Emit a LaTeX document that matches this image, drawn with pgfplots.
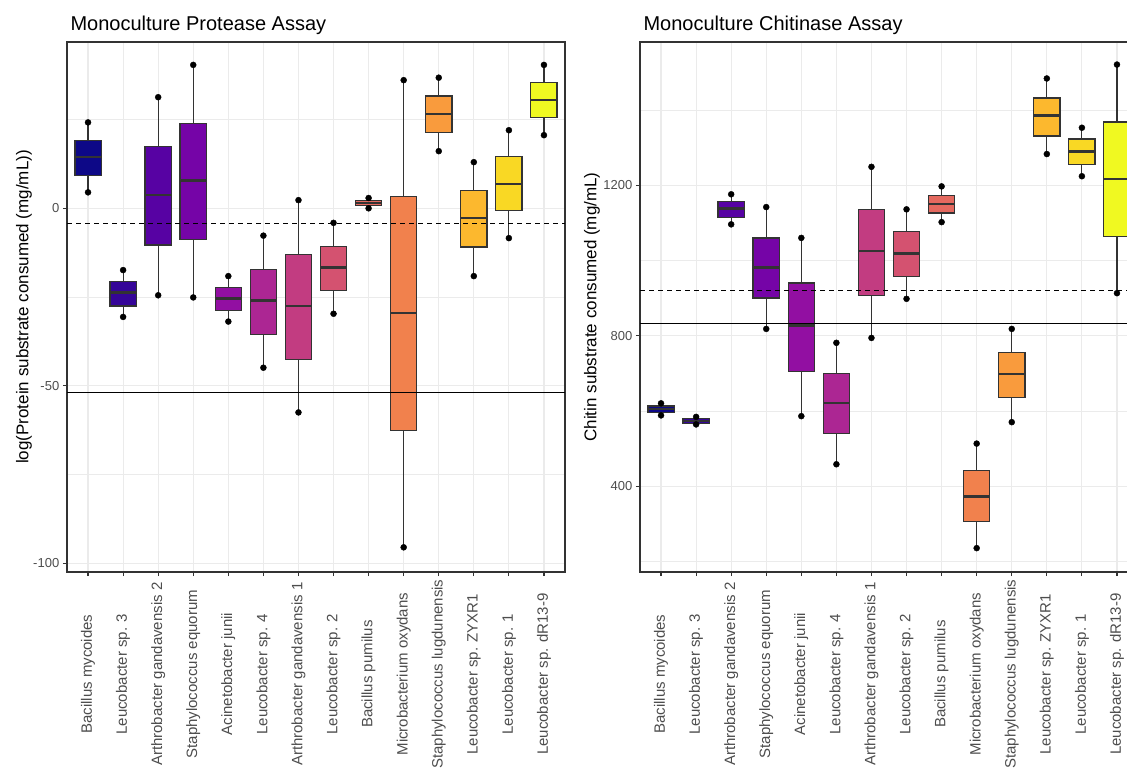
\documentclass[border=0pt]{standalone}
\usepackage{pgfplots}
\pgfplotsset{compat=1.18}
\usepackage{pgfplotstable}
\usepackage{fontspec}
\setmainfont{Liberation Sans}

% plasma palette, 14 steps
\definecolor{c0}{HTML}{0D0887}
\definecolor{c1}{HTML}{350598}
\definecolor{c2}{HTML}{5702A3}
\definecolor{c3}{HTML}{7504A7}
\definecolor{c4}{HTML}{920FA2}
\definecolor{c5}{HTML}{AC2693}
\definecolor{c6}{HTML}{C23C81}
\definecolor{c7}{HTML}{D45270}
\definecolor{c8}{HTML}{E4695F}
\definecolor{c9}{HTML}{F1814D}
\definecolor{c10}{HTML}{F99B3D}
\definecolor{c11}{HTML}{FCB82E}
\definecolor{c12}{HTML}{F9D824}
\definecolor{c13}{HTML}{F0F921}
\definecolor{gridgray}{HTML}{EBEBEB}
\definecolor{edge}{HTML}{333333}
\definecolor{ticktext}{HTML}{4D4D4D}

% five-number summaries per isolate (lower whisker ... upper whisker)
\pgfplotstableread{
pos lw lq med uq uw
0 4.5 9.3 14.4 19.2 24.2
1 -30.6 -27.5 -23.7 -20.6 -17.4
2 -24.5 -10.3 3.7 17.4 31.3
3 -25.1 -8.7 7.9 23.8 40.4
4 -31.9 -28.7 -25.4 -22.3 -19.1
5 -44.9 -35.5 -25.9 -17.2 -7.7
6 -57.5 -42.6 -27.5 -13.0 2.3
7 -29.7 -23.2 -16.6 -10.7 -4.1
8 0.0 0.8 1.5 2.2 2.9
9 -95.5 -62.6 -29.5 3.3 36.1
10 16.1 21.3 26.6 31.6 36.8
11 -19.1 -10.9 -2.7 5.1 13.0
12 -8.4 -0.7 6.9 14.5 22.0
13 20.6 25.5 30.5 35.5 40.4
}\protease

\pgfplotstableread{
pos lw lq med uq uw
0 588 595 605 613 620
1 564 567 573 580 584
2 1096 1114 1138 1157 1176
3 818 900 981 1060 1142
4 586 705 827 940 1060
5 458 540 621 700 781
6 794 906 1025 1135 1249
7 898 958 1018 1077 1136
8 1102 1126 1150 1172 1197
9 235 305 373 442 513
10 570 636 698 756 818
11 1283 1331 1385 1432 1484
12 1224 1255 1290 1323 1353
13 913 1063 1217 1368 1521
}\chitinase

% whiskers, box and median for row #2 of table #1
\newcommand\rowbox[2]{%
  \pgfplotstablegetelem{#2}{lw}\of#1\let\vlw\pgfplotsretval
  \pgfplotstablegetelem{#2}{lq}\of#1\let\vlq\pgfplotsretval
  \pgfplotstablegetelem{#2}{med}\of#1\let\vmed\pgfplotsretval
  \pgfplotstablegetelem{#2}{uq}\of#1\let\vuq\pgfplotsretval
  \pgfplotstablegetelem{#2}{uw}\of#1\let\vuw\pgfplotsretval
  \pgfmathsetmacro\xl{#2-0.375}%
  \pgfmathsetmacro\xr{#2+0.375}%
  \edef\doplot{%
    \noexpand\addplot[draw=edge, line width=1.1pt] coordinates {(#2,\vlw) (#2,\vlq)};
    \noexpand\addplot[draw=edge, line width=1.1pt] coordinates {(#2,\vuq) (#2,\vuw)};
    \noexpand\addplot[fill=c#2, draw=edge, line width=1.3pt]
      coordinates {(\xl,\vlq) (\xr,\vlq) (\xr,\vuq) (\xl,\vuq)} --cycle;
    \noexpand\addplot[draw=edge, line width=2.6pt] coordinates {(\xl,\vmed) (\xr,\vmed)};
  }%
  \doplot
}

\pgfplotsset{
  panel/.style={
    scale only axis, width=498pt, height=530pt,
    anchor=south west,
    xmin=-0.6, xmax=13.6,
    xtick={0,...,13},
    xticklabels={Bacillus mycoides, Leucobacter sp. 3, Arthrobacter gandavensis 2,
      Staphylococcus equorum, Acinetobacter junii, Leucobacter sp. 4,
      Arthrobacter gandavensis 1, Leucobacter sp. 2, Bacillus pumilus,
      Microbacterium oxydans, Staphylococcus lugdunensis, Leucobacter sp. ZYXR1,
      Leucobacter sp. 1, Leucobacter sp. dR13-9},
    xtick pos=left, ytick pos=left,
    tick align=outside,
    major tick length=4.2pt, minor tick length=0pt,
    tick style={edge, line width=1.1pt},
    axis line style={edge, line width=1.2pt},
    xmajorgrids, ymajorgrids, yminorgrids,
    grid style={gridgray, line width=1.1pt},
    minor grid style={gridgray, line width=0.6pt},
    xticklabel style={font=\fontsize{15}{18}\selectfont, text=ticktext,
      rotate=90, anchor=center},
    xticklabel shift=98pt,
    yticklabel style={font=\fontsize{13}{15}\selectfont, text=ticktext},
    every axis title/.style={at={(axis description cs:0,1.0226)}, anchor=base west,
      font=\fontsize{20}{24}\selectfont},
  },
  dots/.style={only marks, mark=*, mark size=3pt, black},
}

\begin{document}
\begin{tikzpicture}
% protease panel
\begin{axis}[panel, at={(67pt,197pt)},
  ymin=-102.45, ymax=46.85,
  ytick={-100,-50,0}, yticklabels={-100,-50,0},
  minor ytick={-75,-25,25},
  title={Monoculture Protease Assay},
  ylabel={log(Protein substrate consumed (mg/mL))},
  every axis y label/.style={at={(axis description cs:-0.0863,0.5)}, rotate=90,
    anchor=center, font=\fontsize{17}{20}\selectfont},
]
\pgfplotsinvokeforeach{0,...,13}{\rowbox{\protease}{#1}}
\addplot[dots] table[x=pos, y=lw] {\protease};
\addplot[dots] table[x=pos, y=uw] {\protease};
\addplot[black, line width=1.1pt, dash pattern=on 4.5pt off 4.5pt] coordinates {(-0.6,-4.4) (13.6,-4.4)};
\addplot[black, line width=1.1pt] coordinates {(-0.6,-51.9) (13.6,-51.9)};
\end{axis}

% chitinase panel
\begin{axis}[panel, at={(640pt,197pt)},
  ymin=171.5, ymax=1581,
  ytick={400,800,1200}, yticklabels={400,800,1200},
  minor ytick={200,600,1000,1400},
  title={Monoculture Chitinase Assay},
  ylabel={Chitin substrate consumed (mg/mL)},
  every axis y label/.style={at={(axis description cs:-0.0964,0.5)}, rotate=90,
    anchor=center, font=\fontsize{17}{20}\selectfont},
]
\pgfplotsinvokeforeach{0,...,13}{\rowbox{\chitinase}{#1}}
\addplot[dots] table[x=pos, y=lw] {\chitinase};
\addplot[dots] table[x=pos, y=uw] {\chitinase};
\addplot[black, line width=1.1pt, dash pattern=on 4.5pt off 4.5pt] coordinates {(-0.6,919) (13.6,919)};
\addplot[black, line width=1.1pt] coordinates {(-0.6,832) (13.6,832)};
\end{axis}

\pgfresetboundingbox
\path[use as bounding box] (0,0) rectangle (1127pt,769pt);
\end{tikzpicture}
\end{document}
